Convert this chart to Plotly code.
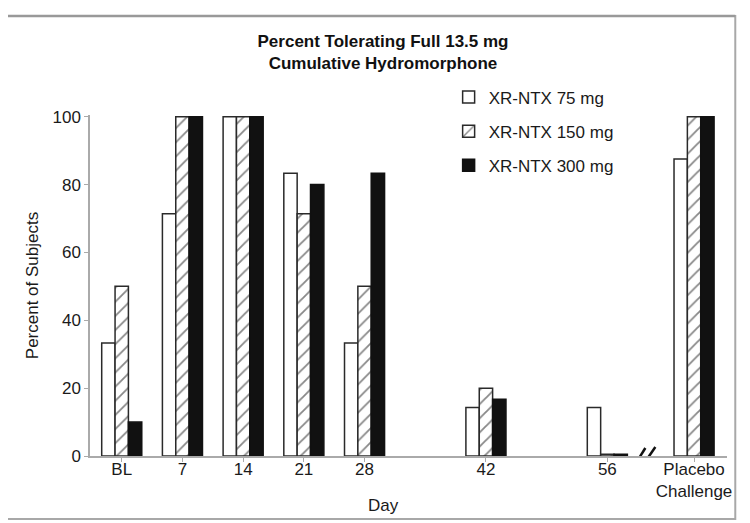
import plotly.graph_objects as go

# ---- data ----
categories = ["BL", "7", "14", "21", "28", "42", "56", "Placebo<br>Challenge"]
day_positions = [0, 7, 14, 21, 28, 42, 56, 66]
series_names = ["XR-NTX 75 mg", "XR-NTX 150 mg", "XR-NTX 300 mg"]
xr75 = [33.3, 71.4, 100, 83.3, 33.3, 14.3, 14.3, 87.5]
xr150 = [50, 100, 100, 71.4, 50, 20, 0.5, 100]
xr300 = [10, 100, 100, 80, 83.3, 16.7, 0.5, 100]
y_ticks = [0, 20, 40, 60, 80, 100]
axis_break_day = 60.5

FONT = "Liberation Sans, Arial, sans-serif"
bar_w = 1.54
offsets = [-1.5 * bar_w, -0.5 * bar_w, 0.5 * bar_w]

styles = [
    dict(color="white", line=dict(color="#2a2a2a", width=1.5)),
    dict(color="white", line=dict(color="#2a2a2a", width=1.5),
         pattern=dict(shape="/", fgcolor="#111", bgcolor="white", size=10, solidity=0.18)),
    dict(color="#111111", line=dict(color="#111111", width=1.5)),
]

fig = go.Figure()
for name, vals, off, st, i in zip(series_names, [xr75, xr150, xr300], offsets, styles, range(3)):
    fig.add_trace(go.Bar(
        x=day_positions, y=vals, name=name, width=bar_w, offset=off,
        marker=st, legendgroup=f"g{i}",
    ))

break_lines = []
for (ax0, ay0, ax1, ay1) in [(-11, -8, -1, 8), (-2, -7, 9, 9)]:
    break_lines.append(dict(
        type="line", xref="x", yref="y",
        xsizemode="pixel", xanchor=axis_break_day, x0=ax0, x1=ax1,
        ysizemode="pixel", yanchor=0, y0=ay0, y1=ay1,
        line=dict(color="#111", width=2.5),
    ))

frame = [
    dict(type="rect", xref="paper", yref="paper",
         x0=-0.145, x1=1.013, y0=-0.185, y1=1.29,
         line=dict(color="#a8a8a8", width=2)),
    dict(type="line", xref="paper", yref="paper",
         x0=-0.145, x1=1.013, y0=1.29, y1=1.29,
         line=dict(color="#999999", width=2.5)),
]

fig.update_layout(
    width=750, height=523,
    margin=dict(l=82, r=31, t=107, b=75, autoexpand=False),
    paper_bgcolor="white", plot_bgcolor="white",
    barmode="overlay",
    font=dict(family=FONT, size=17, color="#1a1a1a"),
    title=dict(
        text="<b>Percent Tolerating Full 13.5 mg<br>Cumulative Hydromorphone</b>",
        x=0.5, xanchor="center", y=0.925, yanchor="top",
        font=dict(family=FONT, size=17, color="#111"),
    ),
    xaxis=dict(
        range=[-3.66, 69.8], tickmode="array", tickvals=day_positions, ticktext=categories,
        showline=True, linecolor="#aaaaaa", linewidth=1.5,
        ticks="outside", ticklen=4, tickcolor="#aaaaaa",
        showgrid=False, zeroline=False, automargin=False,
        ticklabelstandoff=-7,
        tickfont=dict(size=17),
    ),
    yaxis=dict(
        range=[0, 100.5], tickvals=y_ticks,
        showline=True, linecolor="#aaaaaa", linewidth=1.5,
        ticks="outside", ticklen=4, tickcolor="#aaaaaa",
        showgrid=False, zeroline=False, automargin=False,
        title=dict(text="Percent of Subjects", font=dict(size=17), standoff=10),
        tickfont=dict(size=17),
    ),
    legend=dict(
        x=0.563, y=1.104, xanchor="left", yanchor="top",
        bgcolor="rgba(0,0,0,0)", font=dict(size=17),
        itemwidth=30, tracegroupgap=9,
    ),
    shapes=frame + break_lines,
    annotations=[dict(text="Day", xref="paper", yref="paper", x=0.4615, y=-0.1445,
                      xanchor="center", yanchor="middle", showarrow=False,
                      font=dict(size=17, color="#1a1a1a"))],
)

fig.write_html("out.html")
